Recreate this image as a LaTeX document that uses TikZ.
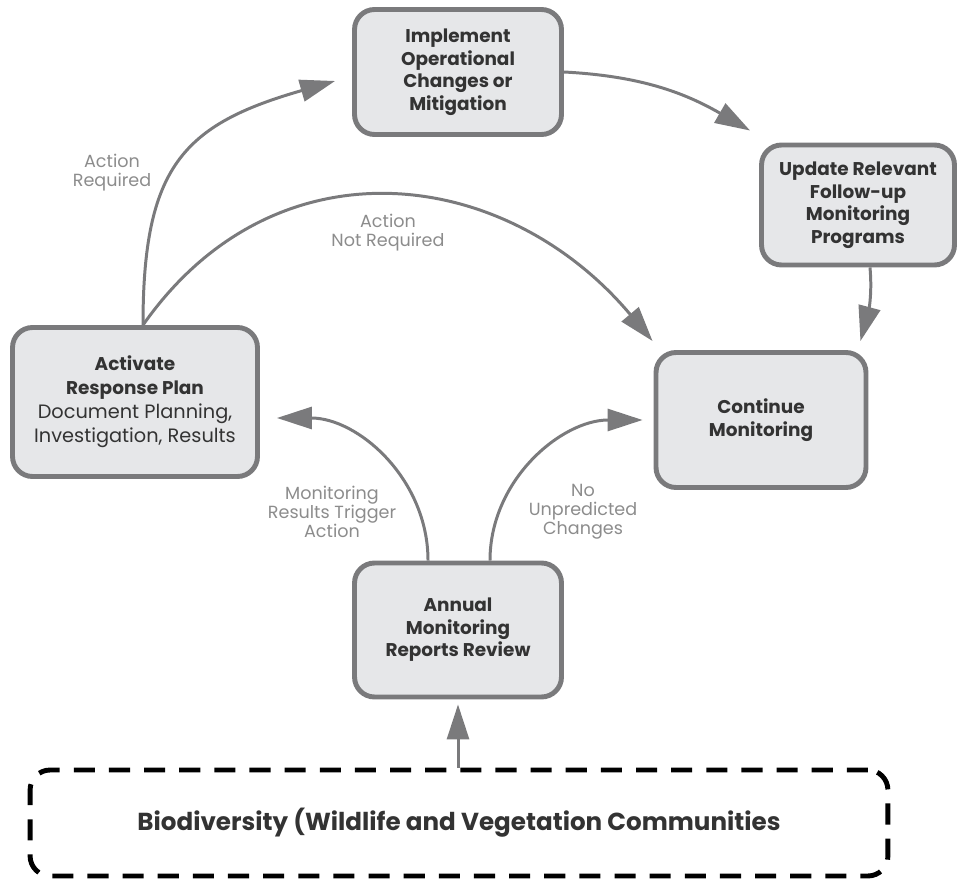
\documentclass[tikz,border=0pt]{standalone}
\usepackage{fontspec}
\setmainfont{Poppins}
\usetikzlibrary{arrows.meta}

\definecolor{boxfill}{HTML}{E6E7E9}
\definecolor{boxline}{HTML}{7A7A7C}
\definecolor{boxtext}{HTML}{333333}
\definecolor{cuetext}{HTML}{8C8C8C}

\begin{document}
\begin{tikzpicture}[x=0.02cm, y=0.02cm,
  stage/.style={draw=boxline, line width=2.8pt, fill=boxfill, rounded corners=0.4cm,
    align=center, text=boxtext, inner sep=2pt,
    font=\fontsize{10.5}{12.8}\selectfont\bfseries},
  flow/.style={draw=boxline, line width=1.7pt,
    -{Triangle[length=0.7cm, width=0.44cm]}},
  cue/.style={text=cuetext, align=center, font=\fontsize{10}{10.8}\selectfont}]
\useasboundingbox (0,0) rectangle (963,-881);

% Cycle stages
\node[stage, minimum width=4.14cm, minimum height=2.5cm] (implement) at (458,-72)
  {Implement\\Operational\\Changes or\\Mitigation};
\node[stage, minimum width=3.86cm, minimum height=2.4cm] (update) at (858,-205)
  {Update Relevant\\Follow-up\\Monitoring\\Programs};
\node[stage, minimum width=4.9cm, minimum height=2.98cm,
  font=\fontsize{10.5}{13.6}\selectfont\bfseries] (activate) at (135,-402)
  {Activate\\Response Plan\\{\mdseries\fontsize{11}{13.6}\selectfont Document Planning,}\\
   {\mdseries\fontsize{11}{13.6}\selectfont Investigation, Results}};
\node[stage, minimum width=4.2cm, minimum height=2.7cm] (continue) at (761,-420)
  {Continue\\Monitoring};
\node[stage, minimum width=4.14cm, minimum height=2.68cm] (annual) at (458,-630)
  {Annual\\Monitoring\\Reports Review};

% Source of the monitoring data
\node[draw=black, line width=2.8pt, dash pattern=on 12pt off 8pt, rounded corners=0.4cm,
  minimum width=17.16cm, minimum height=2.12cm, text=boxtext,
  font=\fontsize{14}{16}\selectfont\bfseries] (bio) at (459,-823)
  {Biodiversity (Wildlife and Vegetation Communities};

% Decisions out of the review
\draw[flow] ([xshift=-0.6cm]annual.north) to[out=90, in=0]
  ([shift={(0.34cm,-0.32cm)}]activate.east);
\draw[flow] ([xshift=0.64cm]annual.north) to[out=90, in=180]
  ([xshift=-0.22cm]continue.west);
\node[cue] (trigger) at (332,-512) {Monitoring\\Results Trigger\\Action};
\node[cue] (nochange) at (583,-512) {No\\Unpredicted\\Changes};

% Response plan branches
\draw[flow] ([xshift=0.16cm]activate.north) to[out=90, in=196, looseness=1.3]
  ([shift={(-0.34cm,-0.18cm)}]implement.west);
\draw[flow] ([xshift=0.16cm]activate.north) to[out=55, in=130, looseness=1.15]
  ([shift={(-0.02cm,0.18cm)}]continue.north west);
\node[cue] (required) at (112,-173) {Action\\Required};
\node[cue] (notrequired) at (388,-233) {Action\\Not Required};

% Mitigation loop back to monitoring
\draw[flow] (implement.east) to[out=-3, in=150]
  ([shift={(-0.18cm,0.24cm)}]update.north west);
\draw[flow] ([xshift=0.24cm]update.south) to[out=-85, in=75]
  ([shift={(-0.16cm,0.18cm)}]continue.north east);

% Data feeds the review
\draw[flow, shorten >=0.1cm] (bio.north -| annual.south) -- (annual.south);
\end{tikzpicture}
\end{document}
